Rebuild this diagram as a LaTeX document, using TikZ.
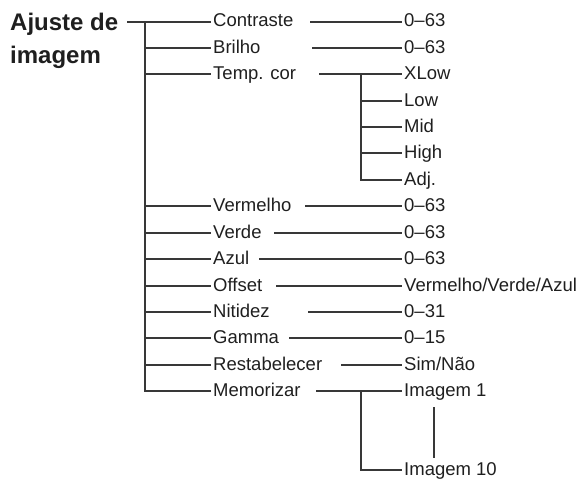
\documentclass[tikz,border=0pt]{standalone}
\usepackage{fontspec}
\setmainfont{Liberation Sans}
\begin{document}
\begin{tikzpicture}[x=1pt,y=-1pt,
  ln/.style={draw=black!78,line width=1.4pt},
  lbl/.style={anchor=west,inner xsep=2pt,inner ysep=0pt,text height=13pt,text depth=3pt,
    font=\fontsize{18.5}{20}\selectfont,text=black!88},
  ttl/.style={anchor=west,inner sep=0pt,text height=18pt,text depth=2pt,
    font=\fontsize{24}{26}\selectfont\bfseries,text=black!88}]
\useasboundingbox (0,0) rectangle (581,479);
% title
\node[ttl] (title) at (10,22) {Ajuste de};
\node[ttl] (title2) at (10,55) {imagem};
% first-level labels
\node[lbl] (contraste) at (211,22) {Contraste};
\node[lbl] (brilho) at (211,48) {Brilho};
\node[lbl] (temp) at (211,74) {Temp. cor};
\node[lbl] (vermelho) at (211,206) {Vermelho};
\node[lbl] (verde) at (211,233) {Verde};
\node[lbl] (azul) at (211,259) {Azul};
\node[lbl] (offset) at (211,286) {Offset};
\node[lbl] (nitidez) at (211,312) {Nitidez};
\node[lbl] (gamma) at (211,338) {Gamma};
\node[lbl] (rest) at (211,365) {Restabelecer};
\node[lbl] (memo) at (211,391) {Memorizar};
% values
\node[lbl] (v1) at (402,22) {0–63};
\node[lbl] (v2) at (402,48) {0–63};
\node[lbl] (xlow) at (402,74) {XLow};
\node[lbl] (low) at (402,101) {Low};
\node[lbl] (mid) at (402,127) {Mid};
\node[lbl] (high) at (402,153) {High};
\node[lbl] (adj) at (402,180) {Adj.};
\node[lbl] (v3) at (402,206) {0–63};
\node[lbl] (v4) at (402,233) {0–63};
\node[lbl] (v5) at (402,259) {0–63};
\node[lbl] (v6) at (402,286) {Vermelho/Verde/Azul};
\node[lbl] (v7) at (402,312) {0–31};
\node[lbl] (v8) at (402,338) {0–15};
\node[lbl] (v9) at (402,365) {Sim/Não};
\node[lbl] (im1) at (402,391) {Imagem 1};
\node[lbl] (im10) at (402,470) {Imagem 10};
% coordinates
\coordinate (ts) at (127,22);
\coordinate (tt) at (145,22);
\coordinate (tb) at (145,391);
\coordinate (s1) at (310,22);
\coordinate (s2) at (312,48);
\coordinate (s3) at (319,74);
\coordinate (s4) at (305,206);
\coordinate (s5) at (274,233);
\coordinate (s6) at (259,259);
\coordinate (s7) at (276,286);
\coordinate (s8) at (308,312);
\coordinate (s9) at (289,338);
\coordinate (s10) at (341,365);
\coordinate (s11) at (316,391);
\coordinate (jt) at (361,74);
\coordinate (jb) at (361,180);
\coordinate (mt) at (361,391);
\coordinate (mb) at (361,470);
\coordinate (it) at (434,407);
\coordinate (ib) at (434,458);
% main trunk
\draw[ln] (ts) -- (contraste.west);
\draw[ln] (tt) -- (tb) -- (memo.west);
\foreach \n in {brilho,temp,vermelho,verde,azul,offset,nitidez,gamma,rest}
  \draw[ln] (tt |- \n.west) -- (\n.west);
% second level
\draw[ln] (s1) -- (v1.west);
\draw[ln] (s2) -- (v2.west);
\draw[ln] (s3) -- (xlow.west);
\draw[ln] (jt) -- (jb) -- (adj.west);
\foreach \n in {low,mid,high}
  \draw[ln] (jt |- \n.west) -- (\n.west);
\draw[ln] (s4) -- (v3.west);
\draw[ln] (s5) -- (v4.west);
\draw[ln] (s6) -- (v5.west);
\draw[ln] (s7) -- (v6.west);
\draw[ln] (s8) -- (v7.west);
\draw[ln] (s9) -- (v8.west);
\draw[ln] (s10) -- (v9.west);
\draw[ln] (s11) -- (im1.west);
\draw[ln] (mt) -- (mb) -- (im10.west);
\draw[ln] (it) -- (ib);
\end{tikzpicture}
\end{document}
